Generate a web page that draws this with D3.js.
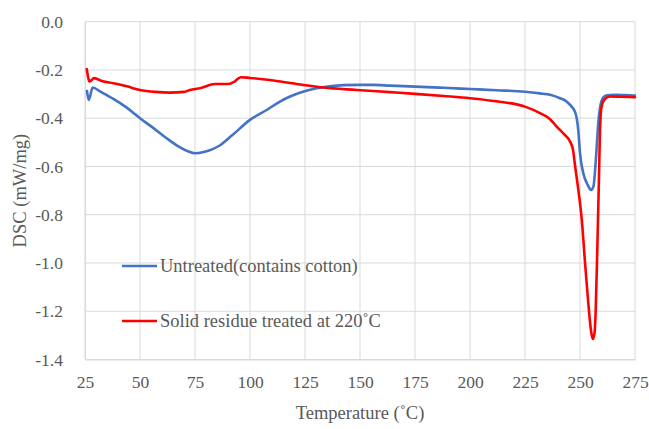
<!DOCTYPE html>
<html>
<head>
<meta charset="utf-8">
<script src="https://cdn.jsdelivr.net/npm/d3@7"></script>
<style>
  html, body { margin: 0; padding: 0; background: #fff; }
  svg { display: block; }
</style>
</head>
<body>
<svg id="chart" width="649" height="429" font-family="Liberation Serif, Times New Roman, serif"></svg>
<script>
// DSC curves: temperature (°C) and heat flow (mW/mg)
const untreatedT = [25.9, 26.7, 28.5, 32, 37.9, 43, 47.7, 50, 56, 62.1, 68, 72, 75, 79, 83, 86.4, 92, 100, 107.6, 113.6, 118.2, 124, 130.3, 136, 142.4, 150, 156, 163.6, 175, 188, 200, 212, 225, 231.8, 236.4, 240.9, 243.5, 245.5, 247.7, 248.6, 249.2, 250, 251.5, 253.5, 255, 256.1, 257.3, 258.3, 259.5, 260.3, 261.4, 263.5, 266.7, 270, 275];
const untreatedV = [-0.287, -0.324, -0.273, -0.29, -0.32, -0.35, -0.383, -0.400, -0.44, -0.483, -0.52, -0.538, -0.545, -0.54, -0.528, -0.512, -0.47, -0.407, -0.366, -0.331, -0.31, -0.29, -0.276, -0.268, -0.263, -0.262, -0.262, -0.265, -0.269, -0.274, -0.279, -0.284, -0.29, -0.297, -0.303, -0.317, -0.328, -0.345, -0.373, -0.405, -0.448, -0.545, -0.628, -0.676, -0.697, -0.683, -0.559, -0.421, -0.338, -0.318, -0.308, -0.304, -0.303, -0.304, -0.306];

const residueT = [25.8, 27.1, 29.1, 33, 37.9, 44, 50, 57, 63.6, 70, 72.7, 77.3, 84.1, 90.2, 93, 95.8, 100, 110.6, 124.2, 133.3, 148.5, 163.6, 175, 188, 200, 212, 225, 231.8, 236.4, 239.4, 243, 245.5, 246.8, 247.8, 249, 250.8, 252.3, 253.8, 255, 255.8, 256.6, 257.1, 257.9, 258.6, 259.1, 259.8, 261.4, 263.6, 268, 275];
const residueV = [-0.196, -0.248, -0.234, -0.247, -0.255, -0.268, -0.283, -0.291, -0.294, -0.291, -0.283, -0.276, -0.258, -0.258, -0.248, -0.230, -0.233, -0.244, -0.262, -0.273, -0.283, -0.292, -0.299, -0.308, -0.317, -0.33, -0.352, -0.379, -0.404, -0.435, -0.468, -0.497, -0.53, -0.6, -0.68, -0.82, -1.0, -1.17, -1.28, -1.315, -1.29, -1.207, -0.93, -0.655, -0.448, -0.352, -0.320, -0.31, -0.311, -0.313];

const seriesNames = ["Untreated(contains cotton)", "Solid residue treated at 220˚C"];
const seriesColors = ["#4472C4", "#FF0000"];

const xTicks = [25, 50, 75, 100, 125, 150, 175, 200, 225, 250, 275];
const yTicks = [0, -0.2, -0.4, -0.6, -0.8, -1.0, -1.2, -1.4];

const xTitle = "Temperature (˚C)";
const yTitle = "DSC (mW/mg)";

const svg = d3.select("#chart");
const plot = { left: 85, right: 635, top: 21.7, bottom: 359.5 };

const x = d3.scaleLinear().domain([25, 275]).range([plot.left, plot.right]);
const y = d3.scaleLinear().domain([0, -1.4]).range([plot.top, plot.bottom]);

const gridColor = "#d9d9d9";
const textColor = "#595959";
const serif = "Liberation Serif, Times New Roman, serif";

// gridlines
svg.append("g").selectAll("line").data(yTicks).join("line")
  .attr("x1", plot.left).attr("x2", plot.right)
  .attr("y1", d => y(d)).attr("y2", d => y(d))
  .attr("stroke", gridColor).attr("stroke-width", 1);
svg.append("g").selectAll("line").data(xTicks).join("line")
  .attr("x1", d => x(d)).attr("x2", d => x(d))
  .attr("y1", plot.top).attr("y2", plot.bottom)
  .attr("stroke", gridColor).attr("stroke-width", 1);

// axes (line + labels)
const xAxis = d3.axisBottom(x).tickValues(xTicks).tickSize(0).tickPadding(16).tickFormat(d3.format("d"));
const gx = svg.append("g").attr("transform", `translate(0,${plot.bottom})`).call(xAxis)
  .attr("font-family", serif).attr("font-size", 17.5);
gx.select(".domain").attr("stroke", gridColor);
gx.selectAll("text").attr("fill", textColor);

const yAxis = d3.axisLeft(y).tickValues(yTicks).tickSize(0).tickPadding(22).tickFormat(d => d3.format(".1f")(d).replace("−", "-"));
const gy = svg.append("g").attr("transform", `translate(${plot.left},0)`).call(yAxis)
  .attr("font-family", serif).attr("font-size", 17.5);
gy.select(".domain").attr("stroke", gridColor);
gy.selectAll("text").attr("fill", textColor);

// axis titles
svg.append("text")
  .attr("x", (plot.left + plot.right) / 2).attr("y", 419)
  .attr("text-anchor", "middle").attr("fill", textColor).attr("font-size", 18.5)
  .text(xTitle);
svg.append("text")
  .attr("transform", `translate(26,${(plot.top + plot.bottom) / 2}) rotate(-90)`)
  .attr("text-anchor", "middle").attr("fill", textColor).attr("font-size", 18.5)
  .text(yTitle);

// curves
const line = d3.line().x(d => x(d[0])).y(d => y(d[1])).curve(d3.curveMonotoneX);
const series = [
  d3.zip(untreatedT, untreatedV),
  d3.zip(residueT, residueV)
];
svg.append("g").selectAll("path").data(series).join("path")
  .attr("d", line)
  .attr("fill", "none")
  .attr("stroke", (d, i) => seriesColors[i])
  .attr("stroke-width", 2.6)
  .attr("stroke-linejoin", "round")
  .attr("stroke-linecap", "round");

// legend
const legendY = [266, 321];
const lg = svg.append("g").selectAll("g").data(seriesNames).join("g")
  .attr("transform", (d, i) => `translate(122,${legendY[i]})`);
lg.append("line").attr("x1", 0).attr("x2", 35).attr("y1", 0).attr("y2", 0)
  .attr("stroke", (d, i) => seriesColors[i]).attr("stroke-width", 2.6);
lg.append("text").attr("x", 38).attr("y", 0).attr("dy", "0.35em")
  .attr("fill", textColor).attr("font-size", 18.5).text(d => d);
</script>
</body>
</html>
